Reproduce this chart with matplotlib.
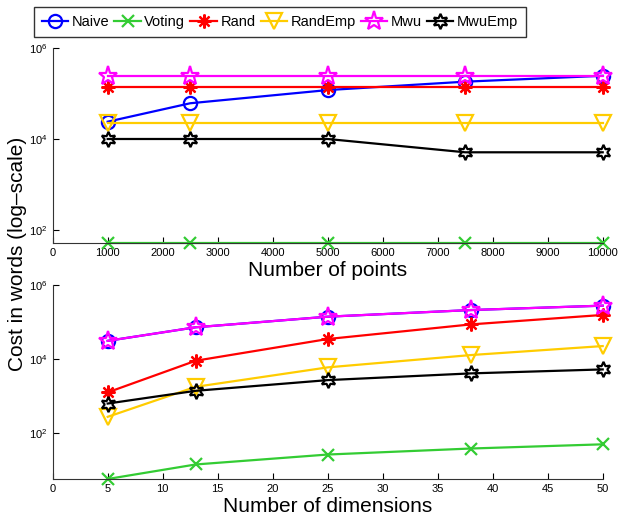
import numpy as np
import matplotlib
matplotlib.use("Agg")
import matplotlib.pyplot as plt
from matplotlib.ticker import NullLocator

plt.rcParams['font.family'] = ['Liberation Sans', 'DejaVu Sans']
plt.rcParams['mathtext.fontset'] = 'custom'
plt.rcParams['mathtext.rm'] = 'Liberation Sans'

# cost vs number of points
points = [1000, 2500, 5000, 7500, 10000]
pts_naive = [2.4e4, 6.1e4, 1.19e5, 1.82e5, 2.45e5]
pts_voting = [52, 52, 52, 52, 52]
pts_rand = [1.41e5, 1.41e5, 1.41e5, 1.41e5, 1.41e5]
pts_randemp = [2.2e4, 2.2e4, 2.2e4, 2.2e4, 2.2e4]
pts_mwu = [2.43e5, 2.43e5, 2.43e5, 2.43e5, 2.43e5]
pts_mwuemp = [1.0e4, 1.0e4, 1.0e4, 5.1e3, 5.1e3]

# cost vs number of dimensions
dims = [5, 13, 25, 38, 50]
dim_naive = [3.1e4, 7.2e4, 1.39e5, 2.1e5, 2.76e5]
dim_voting = [5.8, 14.3, 26.5, 38.5, 50]
dim_rand = [1.26e3, 9.0e3, 3.47e4, 8.6e4, 1.55e5]
dim_randemp = [2.76e2, 1.78e3, 5.96e3, 1.28e4, 2.24e4]
dim_mwu = [3.1e4, 7.2e4, 1.39e5, 2.1e5, 2.76e5]
dim_mwuemp = [6.3e2, 1.39e3, 2.7e3, 4.1e3, 5.25e3]

names = ["Naive", "Voting", "Rand", "RandEmp", "Mwu", "MwuEmp"]
colors = ["#0000ff", "#33cc33", "#ff0000", "#ffcc00", "#ff00ff", "#000000"]
markers = ["o", "x", (8, 2, 0), "v", "*", (6, 1, 0)]
msizes = [9.5, 8, 10, 12, 14, 11]

fig = plt.figure(figsize=(6.25, 5.19), dpi=100)
ax1 = fig.add_axes([0.0843, 0.532, 0.8800, 0.3755])
ax2 = fig.add_axes([0.0843, 0.0771, 0.8800, 0.3739])


def draw(ax, x, series, xmax, xstep, ymin, xlabel):
    handles = []
    for ys, name, c, m, ms in zip(series, names, colors, markers, msizes):
        h, = ax.plot(x, ys, color=c, marker=m, markersize=ms, linewidth=1.6,
                     markerfacecolor='none', markeredgecolor=c,
                     markeredgewidth=1.6, label=name, clip_on=False)
        handles.append(h)
    ax.set_yscale('log')
    ax.set_xlim(0, xmax)
    ax.set_ylim(ymin, 1e6)
    ax.set_xticks(np.arange(0, xmax + 1, xstep))
    ax.set_yticks([1e2, 1e4, 1e6])
    ax.yaxis.set_minor_locator(NullLocator())
    ax.tick_params(direction='in', labelsize=8, length=4, width=0.8)
    ax.spines['top'].set_visible(False)
    ax.spines['right'].set_visible(False)
    for s in ['left', 'bottom']:
        ax.spines[s].set_linewidth(0.8)
        ax.spines[s].set_color('#333333')
    ax.set_xlabel(xlabel, fontsize=15, labelpad=2)
    return handles


handles = draw(ax1, points,
               [pts_naive, pts_voting, pts_rand, pts_randemp, pts_mwu, pts_mwuemp],
               10000, 1000, 52, "Number of points")
draw(ax2, dims,
     [dim_naive, dim_voting, dim_rand, dim_randemp, dim_mwu, dim_mwuemp],
     50, 5, 5.8, "Number of dimensions")

fig.text(0.028, 0.51, "Cost in words (log\u2013scale)", rotation=90,
         fontsize=15, ha='center', va='center')

leg = fig.legend(handles=handles, loc='upper left', bbox_to_anchor=(0.054, 0.987),
                 ncol=6, fontsize=10.5, frameon=True, fancybox=False,
                 handlelength=1.8, handletextpad=0.25, columnspacing=0.35,
                 borderpad=0.55, borderaxespad=0)
leg.get_frame().set_edgecolor('black')
leg.get_frame().set_linewidth(1.0)

fig.savefig("out.png", dpi=100)
